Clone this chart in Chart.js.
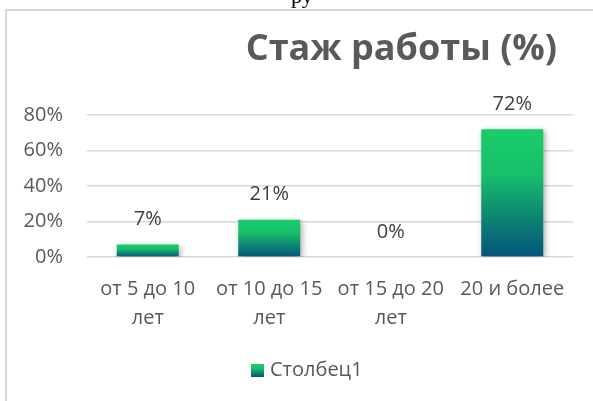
<!DOCTYPE html>
<html lang="ru">
<head>
<meta charset="utf-8">
<script src="https://cdn.jsdelivr.net/npm/chart.js@4.4.1/dist/chart.umd.min.js"></script>
<style>
  html, body { margin: 0; padding: 0; background: #ffffff; overflow: hidden; width: 593px; height: 401px; }
  #frame { position: absolute; left: 5px; top: 9px; width: 700px; height: 500px;
           border-left: 2px solid #d9d9d9; border-top: 2px solid #d9d9d9; }
  #doc { position: absolute; left: 291px; top: -17px; font: 22px "Liberation Serif", serif; color: #000; }
  #c { position: absolute; left: 0; top: 0; }
</style>
</head>
<body>
<div id="doc">ру</div>
<div id="frame"></div>
<canvas id="c" width="593" height="401"></canvas>
<script>
// ---- data ----
const chartTitle = 'Стаж работы (%)';
const seriesName = 'Столбец1';
const categories = [['от 5 до 10', 'лет'], ['от 10 до 15', 'лет'], ['от 15 до 20', 'лет'], ['20 и более']];
const values = [7, 21, 0, 72];
const yTicks = [0, 20, 40, 60, 80];

const FONT = "'Open Sans', 'Noto Sans', sans-serif";
const TEXT = '#595959';

function barGradient(g) {
  g.addColorStop(0, '#19cd6a');
  g.addColorStop(0.35, '#17bf6a');
  g.addColorStop(0.72, '#0d7f74');
  g.addColorStop(1, '#04557a');
  return g;
}

const extras = {
  id: 'extras',
  beforeDatasetsDraw(chart) {
    const ctx = chart.ctx;
    ctx.save();
    ctx.shadowColor = 'rgba(0,0,0,0.35)';
    ctx.shadowBlur = 6;
    ctx.shadowOffsetX = 1.5;
    ctx.shadowOffsetY = 2;
  },
  afterDatasetsDraw(chart) {
    const ctx = chart.ctx;
    ctx.restore();
    // value labels
    const meta = chart.getDatasetMeta(0);
    ctx.save();
    ctx.font = '20px ' + FONT;
    ctx.fillStyle = '#404040';
    ctx.textAlign = 'center';
    ctx.textBaseline = 'middle';
    meta.data.forEach((bar, i) => {
      ctx.fillText(values[i] + '%', bar.x, bar.y - 25);
    });
    ctx.restore();
  },
  afterDraw(chart) {
    const ctx = chart.ctx;
    ctx.save();
    // title
    ctx.font = 'bold 36px ' + FONT;
    ctx.fillStyle = TEXT;
    ctx.textAlign = 'right';
    ctx.textBaseline = 'middle';
    ctx.fillText(chartTitle, 557, 50);
    // legend
    const bx = 251, by = 364, bs = 13;
    const g = barGradient(ctx.createLinearGradient(0, by, 0, by + bs));
    ctx.fillStyle = g;
    ctx.fillRect(bx, by, bs, bs);
    ctx.font = '20px ' + FONT;
    ctx.fillStyle = TEXT;
    ctx.textAlign = 'left';
    ctx.fillText(seriesName, bx + 19, by + bs / 2);
    ctx.restore();
  }
};

new Chart(document.getElementById('c'), {
  type: 'bar',
  data: {
    labels: categories,
    datasets: [{
      label: seriesName,
      data: values,
      categoryPercentage: 1,
      barPercentage: 0.51,
      backgroundColor: (c) => {
        const chart = c.chart;
        if (!chart.chartArea || c.type !== 'data') return '#19cd6a';
        const y = chart.scales.y;
        const top = y.getPixelForValue(c.raw);
        const base = y.getPixelForValue(0);
        if (base - top < 1) return '#19cd6a';
        return barGradient(chart.ctx.createLinearGradient(0, top, 0, base));
      }
    }]
  },
  options: {
    responsive: false,
    animation: false,
    devicePixelRatio: 1,
    layout: { padding: { left: 0, right: 20, top: 115, bottom: 0 } },
    plugins: {
      legend: { display: false },
      title: { display: false },
      tooltip: { enabled: false }
    },
    scales: {
      x: {
        grid: { display: false, drawTicks: false },
        border: { display: false },
        ticks: {
          color: TEXT,
          font: { family: FONT, size: 20, lineHeight: 1.45 },
          padding: 18,
          maxRotation: 0,
          autoSkip: false
        },
        afterFit: (s) => { s.height = 144; }
      },
      y: {
        min: 0,
        max: 80,
        afterBuildTicks: (s) => { s.ticks = yTicks.map(v => ({ value: v })); },
        grid: { color: '#d9d9d9', lineWidth: 1.5, drawTicks: false },
        border: { display: false },
        ticks: {
          color: TEXT,
          font: { family: FONT, size: 20 },
          padding: 24,
          callback: (v) => v + '%'
        },
        afterFit: (s) => { s.width = 87; }
      }
    }
  },
  plugins: [extras]
});
</script>
</body>
</html>
